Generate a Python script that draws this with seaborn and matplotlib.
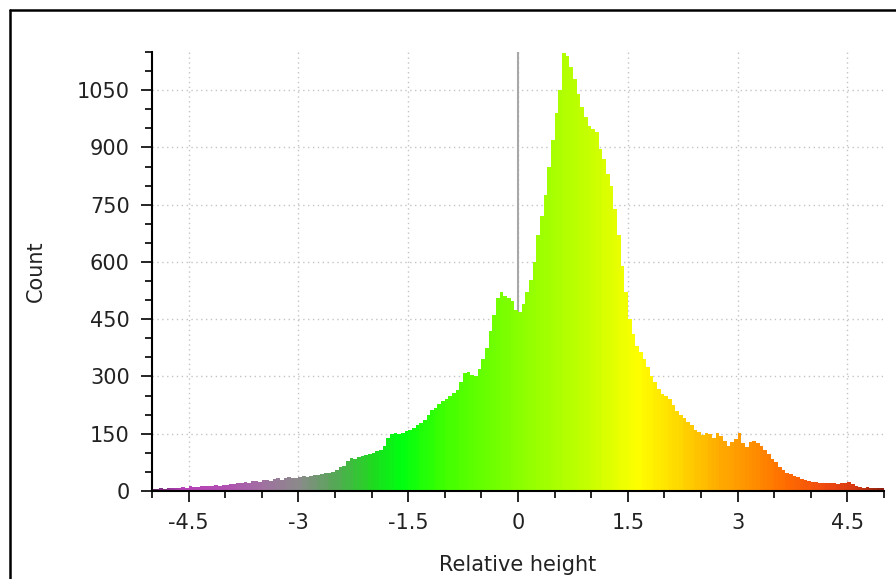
import numpy as np
import pandas as pd
import matplotlib
matplotlib.use("Agg")
import matplotlib.pyplot as plt
import seaborn as sns
from matplotlib.colors import LinearSegmentedColormap
from matplotlib.lines import Line2D
from matplotlib.ticker import MultipleLocator

# ---- data: histogram counts, bin width 0.05 from -5 to 5 ----
bin_start = -5.0
bin_width = 0.05
counts = [
    # -5.0 .. -4.05
    6, 5, 7, 6, 8, 7, 9, 8, 10, 9, 12, 10, 11, 13, 12, 14, 13, 15, 14, 16,
    # -4.0 .. -3.05
    17, 19, 18, 21, 20, 24, 22, 25, 27, 24, 28, 30, 27, 31, 33, 30, 34, 36, 33, 35,
    # -3.0 .. -2.05
    36, 38, 37, 40, 42, 41, 45, 46, 48, 50, 55, 62, 66, 78, 86, 84, 88, 92, 95, 97,
    # -2.0 .. -1.05
    100, 105, 108, 118, 140, 150, 153, 150, 152, 156, 160, 165, 172, 178, 185, 200, 212, 218, 228, 235,
    # -1.0 .. -0.05
    240, 248, 256, 265, 285, 308, 312, 305, 300, 320, 345, 375, 420, 460, 505, 522, 510, 505, 498, 475,
    # 0.0 .. 0.95
    468, 490, 520, 552, 600, 670, 720, 775, 850, 920, 990, 1050, 1148, 1140, 1110, 1080, 1040, 1005, 980, 955,
    # 1.0 .. 1.95
    948, 940, 895, 870, 830, 800, 740, 670, 590, 520, 450, 410, 380, 365, 345, 325, 300, 285, 268, 255,
    # 2.0 .. 2.95
    248, 240, 225, 210, 200, 190, 180, 172, 160, 155, 148, 153, 150, 140, 152, 145, 130, 118, 128, 135,
    # 3.0 .. 3.95
    152, 125, 116, 128, 130, 125, 118, 108, 98, 85, 75, 62, 55, 48, 44, 38, 36, 32, 28, 26,
    # 4.0 .. 4.95
    24, 23, 22, 21, 22, 20, 21, 19, 20, 22, 24, 18, 12, 10, 9, 10, 9, 8, 9, 7,
]
x_ticks = [-4.5, -3, -1.5, 0, 1.5, 3, 4.5]
x_tick_labels = ["-4.5", "-3", "-1.5", "0", "1.5", "3", "4.5"]
y_ticks = [0, 150, 300, 450, 600, 750, 900, 1050]

# colour ramp along the x axis
ramp_pos = [-5.0, -4.6, -4.0, -3.5, -3.0, -2.5, -2.0, -1.6, -1.0, 0.0, 1.0, 1.65, 2.2, 2.7, 3.2, 3.7, 4.2, 4.6, 5.0]
ramp_col = ["#6a2a70", "#b840b8", "#b050b0", "#a070a0", "#8a8a8a", "#55a855", "#20d820", "#00ff10",
            "#40ff00", "#88ff00", "#c8ff00", "#ffff00", "#ffd800", "#ffb000", "#ff9000", "#ff6a00",
            "#f04a10", "#d83a10", "#902010"]

n = len(counts)
centers = bin_start + bin_width * (np.arange(n) + 0.5)
df = pd.DataFrame({"height": centers, "count": counts})

sns.set_theme(style="white")
plt.rcParams["font.family"] = ["DejaVu Sans"]
plt.rcParams["axes.unicode_minus"] = False

fig = plt.figure(figsize=(8.96, 5.79), dpi=100)
ax = fig.add_axes([152 / 896, 1 - 491 / 579, (884 - 152) / 896, (491 - 52) / 579])

sns.histplot(data=df, x="height", weights="count", binwidth=bin_width,
             binrange=(bin_start, bin_start + n * bin_width), ax=ax,
             element="bars", linewidth=0, alpha=1, zorder=3)

norm_pos = [(p - ramp_pos[0]) / (ramp_pos[-1] - ramp_pos[0]) for p in ramp_pos]
cmap = LinearSegmentedColormap.from_list("ramp", list(zip(norm_pos, ramp_col)))
for patch in ax.patches:
    cx = patch.get_x() + patch.get_width() / 2
    patch.set_facecolor(cmap((cx - ramp_pos[0]) / (ramp_pos[-1] - ramp_pos[0])))
    patch.set_edgecolor("none")
    patch.set_width(patch.get_width() * 1.02)

ax.set_xlim(-5, 5)
ax.set_ylim(0, 1150)
ax.axvline(0, color="#a8a8a8", lw=1.5, zorder=2)

ax.set_xticks(x_ticks)
ax.set_xticklabels(x_tick_labels)
ax.set_yticks(y_ticks)
ax.xaxis.set_minor_locator(MultipleLocator(0.5))
ax.yaxis.set_minor_locator(MultipleLocator(50))

ax.grid(True, which="major", color="#c4c4c4", linestyle=(0, (1, 2.5)), linewidth=1, zorder=1)
ax.set_axisbelow(True)

for side in ["top", "right"]:
    ax.spines[side].set_visible(False)
for side in ["left", "bottom"]:
    ax.spines[side].set_color("black")
    ax.spines[side].set_linewidth(1.5)
    ax.spines[side].set_zorder(5)

ax.tick_params(axis="both", which="major", direction="out", length=8, width=1.2,
               colors="black", labelsize=15, labelcolor="#222222", pad=8,
               bottom=True, left=True)
ax.tick_params(axis="both", which="minor", direction="out", length=5, width=1.2,
               colors="black", bottom=True, left=True)

ax.set_xlabel("Relative height", fontsize=15, color="#222222")
ax.set_ylabel("Count", fontsize=15, color="#222222")
ax.xaxis.set_label_coords(0.5, -0.145)
ax.yaxis.set_label_coords(-0.145, 0.5)

# outer frame (left and top edges visible)
fig.add_artist(Line2D([10 / 896, 10 / 896], [0, 1 - 10 / 579], transform=fig.transFigure,
                      color="black", lw=1.8))
fig.add_artist(Line2D([10 / 896, 1], [1 - 10 / 579, 1 - 10 / 579], transform=fig.transFigure,
                      color="black", lw=1.8))

fig.savefig("out.png", dpi=100, facecolor="white")
